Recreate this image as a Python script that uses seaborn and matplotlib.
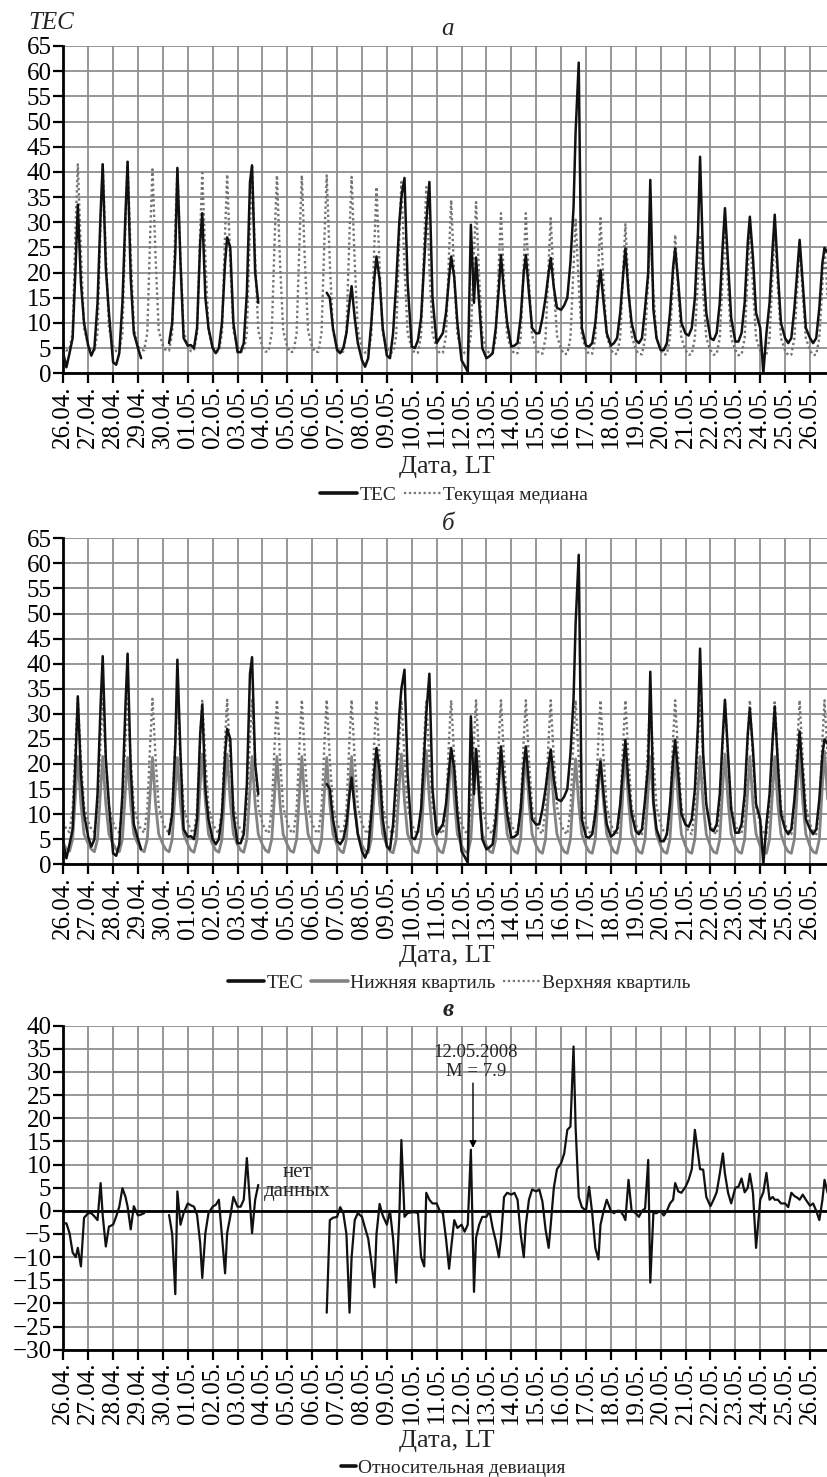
import numpy as np
import pandas as pd
import matplotlib
matplotlib.use("Agg")
import matplotlib.pyplot as plt
import seaborn as sns
from matplotlib.lines import Line2D

sns.set_theme(style="ticks")
plt.rcParams['font.family'] = ['Liberation Serif', 'DejaVu Serif']
plt.rcParams['axes.unicode_minus'] = True

N = np.nan

date_labels = ["26.04.", "27.04.", "28.04.", "29.04.", "30.04.", "01.05.", "02.05.",
               "03.05.", "04.05.", "05.05.", "06.05.", "07.05.", "08.05.", "09.05.",
               "10.05.", "11.05.", "12.05.", "13.05.", "14.05.", "15.05.", "16.05.",
               "17.05.", "18.05.", "19.05.", "20.05.", "21.05.", "22.05.", "23.05.",
               "24.05.", "25.05.", "26.05."]

# local time (hours) of the samples within each day
hours = [0, 3, 6, 9, 12, 14, 17, 20]

# TEC, one row per day
tec = [
    [4, 1.2, 4, 7, 22, 33.5, 18, 10],
    [5.5, 3.5, 5, 14, 32, 41.5, 21, 12],
    [2.2, 1.7, 4, 14, 32, 42, 19, 8],
    [5, 3, N, N, N, N, N, N],
    [N, N, 6, 10, 24, 40.8, 22, 7],
    [5.5, 5.6, 5, 9, 26, 31.8, 15, 9],
    [5, 4, 5, 10, 22, 27, 25, 10],
    [4.2, 4.2, 6, 16, 38, 41.3, 20, 14],
    [N, N, N, N, N, N, N, N],
    [N, N, N, N, N, N, N, N],
    [N, N, N, N, N, 16, 15, 9],
    [4.6, 4, 5, 8, 14, 17.3, 11, 6],
    [2.6, 1.3, 3, 10, 19, 23.2, 18.6, 9],
    [3.5, 3, 8, 18, 30, 35, 38.8, 18],
    [5.3, 5, 6.6, 11, 22, 30, 38, 15],
    [6, 7, 8, 12, 19, 23.2, 19, 10],
    [2.6, 1.5, 0.3, 29.5, 14, 23, 14, 5],
    [3, 3.4, 4, 9, 17, 23.5, 16, 10],
    [5.3, 5.5, 6, 11, 20, 23.5, 16, 9],
    [7.9, 8, 11, 15, 20, 22.9, 17, 13],
    [12.6, 13.5, 15, 22, 33, 48, 61.7, 9],
    [5.5, 5.3, 6, 10, 17, 20.5, 14, 8],
    [5.5, 6, 7, 12, 20, 24.8, 16, 10],
    [6.6, 6, 7, 13, 20, 38.4, 12.6, 7],
    [4.6, 4.6, 6, 12, 21, 24.8, 18, 10],
    [7.9, 7.5, 9, 15, 28, 43, 22, 12],
    [7, 6.6, 8, 14, 26, 32.8, 22, 11],
    [6.3, 6.3, 8, 14, 26, 31.1, 23, 12],
    [9, 0, 8, 14, 25, 31.5, 20, 10],
    [7, 6, 7, 13, 21, 26.5, 18, 9],
    [7, 6, 7, 13, 22, 24.9, 24, N],
]

# running median
median = [
    [5.5, 4.5, 4.8, 8, 30, 41.5, 24, 9],
    [5.5, 4.5, 4.6, 8, 30, 41.5, 24, 9],
    [5.4, 4.4, 4.6, 8, 30, 42, 24, 9],
    [5.5, 4.6, 4.6, 8, 29, 40.5, 23, 8.5],
    [5.5, 4.5, 4.5, 8, 29, 40.5, 23, 8.5],
    [5.4, 4.4, 4.5, 8, 28, 39.8, 23, 8.5],
    [5.3, 4.3, 4.4, 8, 28, 39.5, 22, 8.5],
    [5.3, 4.3, 4.4, 8, 29, 41, 23, 8.5],
    [5.2, 4.3, 4.4, 8, 28, 39.3, 22, 8.5],
    [5.2, 4.2, 4.3, 8, 28, 39.3, 22, 8.5],
    [5.2, 4.2, 4.3, 8, 28, 39.3, 22, 8.5],
    [5.1, 4.2, 4.3, 8, 28, 39, 22, 8.5],
    [5.0, 4.1, 4.2, 7.5, 26, 37, 21, 8],
    [5.0, 4.1, 4.2, 7.5, 27, 38, 21, 8],
    [5.0, 4.0, 4.1, 7.5, 26, 37, 21, 8],
    [4.9, 4.0, 4.1, 7.5, 24, 34.4, 19, 7.5],
    [4.9, 4.0, 4.0, 7.5, 24, 34, 19, 7.5],
    [4.8, 3.9, 4.0, 7, 22, 31.8, 18, 7.5],
    [4.8, 3.9, 4.0, 7, 22, 31.8, 18, 7.5],
    [4.8, 3.9, 3.9, 7, 22, 30.8, 17.5, 7.5],
    [4.8, 3.8, 3.9, 7, 21, 30.5, 17.5, 7.5],
    [4.7, 3.8, 3.9, 7, 22, 30.8, 17.5, 7.5],
    [4.7, 3.8, 3.9, 7, 21, 29.6, 17, 7.5],
    [4.7, 3.8, 3.8, 7, 19, 27, 16, 7],
    [4.6, 3.7, 3.8, 7, 19, 27.5, 16, 7],
    [4.6, 3.7, 3.8, 7, 19, 27.5, 16, 7],
    [4.6, 3.7, 3.8, 7, 20, 29, 17, 7],
    [4.6, 3.6, 3.7, 7, 20, 29, 17, 7],
    [4.5, 3.6, 3.7, 7, 20, 29, 17, 7],
    [4.5, 3.6, 3.7, 7, 18, 26, 15.5, 7],
    [4.5, 3.6, 3.7, 7, 18, 25, 15, N],
]

# lower quartile
lower_q = [
    [4.2, 3.0, 2.6, 5, 15, 21.5, 12, 6],
    [4.1, 3.0, 2.5, 5, 15, 21.5, 12, 6],
    [4.1, 2.9, 2.5, 5, 15, 21.3, 12, 6],
    [4.0, 2.9, 2.5, 5, 15, 21.3, 12, 6],
    [4.0, 2.9, 2.5, 5, 15, 21.3, 12, 6],
    [4.0, 2.8, 2.4, 5, 16, 22, 12.5, 6],
    [4.0, 2.8, 2.4, 5, 16, 22, 12.5, 6],
    [3.9, 2.8, 2.4, 5, 15, 21.5, 12, 6],
    [3.9, 2.8, 2.4, 5, 15, 21.5, 12, 6],
    [3.9, 2.7, 2.4, 5, 15, 21.5, 12, 6],
    [3.9, 2.7, 2.3, 5, 15, 21.3, 12, 6],
    [3.8, 2.7, 2.3, 5, 15, 21.5, 12, 6],
    [3.8, 2.7, 2.3, 5, 15, 21.5, 12, 6],
    [3.8, 2.6, 2.3, 5, 16, 22, 12.5, 6],
    [3.8, 2.6, 2.3, 5, 16, 22.7, 13, 6],
    [3.8, 2.6, 2.3, 5, 16, 22.7, 13, 6],
    [3.8, 2.6, 2.3, 5, 16, 22.7, 13, 6],
    [3.7, 2.6, 2.3, 5, 16, 22.7, 13, 6],
    [3.7, 2.6, 2.2, 5, 16, 22, 12.5, 6],
    [3.7, 2.6, 2.2, 5, 15, 21.5, 12, 6],
    [3.7, 2.5, 2.2, 5, 15, 21, 12, 6],
    [3.7, 2.5, 2.2, 5, 15, 21, 12, 6],
    [3.7, 2.5, 2.2, 5, 16, 22, 12.5, 6],
    [3.7, 2.5, 2.2, 5, 15, 21.5, 12, 6],
    [3.6, 2.5, 2.2, 5, 16, 22, 12.5, 6],
    [3.6, 2.5, 2.2, 5, 15, 21.5, 12, 6],
    [3.6, 2.5, 2.2, 5, 16, 22, 12.5, 6],
    [3.6, 2.5, 2.2, 5, 15, 21.5, 12, 6],
    [3.6, 2.5, 2.2, 5, 15, 21.5, 12, 6],
    [3.6, 2.5, 2.2, 5, 16, 22, 12.5, 6],
    [3.6, 2.5, 2.2, 5, 16, 22.5, 13, N],
]

# upper quartile
upper_q = [
    [8.5, 7.0, 6.4, 11, 25, 33, 21, 11.5],
    [8.5, 7.0, 6.4, 11, 25, 33, 21, 11.5],
    [8.4, 6.9, 6.3, 11, 25, 33, 21, 11.5],
    [8.4, 6.9, 6.3, 11, 25, 33, 21, 11.5],
    [8.4, 6.9, 6.3, 11, 25, 33, 21, 11.5],
    [8.3, 6.8, 6.3, 11, 25, 32.8, 21, 11.5],
    [8.3, 6.8, 6.2, 11, 25, 32.8, 21, 11.5],
    [8.3, 6.8, 6.2, 11, 25, 33, 21, 11.5],
    [8.2, 6.8, 6.2, 11, 25, 32.8, 21, 11.5],
    [8.2, 6.7, 6.2, 11, 25, 32.8, 21, 11.5],
    [8.2, 6.7, 6.2, 11, 25, 32.8, 21, 11.5],
    [8.2, 6.7, 6.2, 11, 25, 32.8, 21, 11.5],
    [8.1, 6.7, 6.1, 11, 25, 32.7, 21, 11.5],
    [8.1, 6.7, 6.1, 11, 25, 32.7, 21, 11.5],
    [8.1, 6.6, 6.1, 11, 25, 32.7, 21, 11.5],
    [8.1, 6.6, 6.1, 11, 25, 32.7, 21, 11.5],
    [8.1, 6.6, 6.1, 11, 25, 32.7, 21, 11.5],
    [8.0, 6.6, 6.1, 11, 25, 32.7, 21, 11.5],
    [8.0, 6.6, 6.1, 11, 25, 32.7, 21, 11.5],
    [8.0, 6.6, 6.1, 11, 25, 32.7, 21, 11.5],
    [8.0, 6.5, 6.0, 11, 25, 32.7, 21, 11.5],
    [8.0, 6.5, 6.0, 11, 25, 32.7, 21, 11.5],
    [8.0, 6.5, 6.0, 11, 25, 32.7, 21, 11.5],
    [8.0, 6.5, 6.0, 11, 25, 32.7, 21, 11.5],
    [8.0, 6.5, 6.0, 11, 25, 32.7, 21, 11.5],
    [8.0, 6.5, 6.0, 11, 25, 32.7, 21, 11.5],
    [8.0, 6.5, 6.0, 11, 25, 32.7, 21, 11.5],
    [8.0, 6.5, 6.0, 11, 25, 32.7, 21, 11.5],
    [8.0, 6.5, 6.0, 11, 25, 32.7, 21, 11.5],
    [8.0, 6.5, 6.0, 11, 25, 32.7, 21, 11.5],
    [8.0, 6.5, 6.0, 11, 25, 32.7, 21, N],
]

# relative deviation
deviation = [
    [-2.7, -2.7, -4.8, -9, -10, -8, -12, -1.5],
    [-0.5, -0.5, -1.2, -2, 6, -1, -7.7, -3.4],
    [-3, -1.2, 0.9, 4.9, 3, 0.9, -4, 1],
    [-1, -0.8, -0.5, N, N, N, N, N],
    [N, N, -0.9, -5, -18, 4.2, -3, -0.5],
    [1.6, 1.2, 0.9, -0.9, -7, -14.5, -4.8, -0.5],
    [0.9, 1.3, 2.4, -5.5, -13.5, -4.8, -1.2, 3],
    [0.9, 0.9, 2.4, 11.4, 1.6, -4.8, 2.4, 5.6],
    [N, N, N, N, N, N, N, N],
    [N, N, N, N, N, N, N, N],
    [N, N, N, N, N, -22, -2, -1.5],
    [-1.3, 0.8, -0.5, -5, -22, -10, -2, -0.5],
    [-1.3, -3.7, -6, -11, -16.5, -5, 1.5, -1],
    [-3, 0, -6, -15.5, -1.3, 15.3, -1.3, -0.5],
    [-0.3, -0.3, -0.5, -10, -12, 3.9, 2.4, 1.6],
    [1.6, 0, -0.5, -6, -12.5, -8, -2, -3.7],
    [-3, -4.5, -3, 13.2, -17.5, -5.8, -3, -1.3],
    [-1.3, 0, -3.7, -6.5, -10, -6, 3, 3.9],
    [3.5, 3.9, 2.4, -5, -10, -3, 2.4, 4.6],
    [4.2, 4.6, 2, -4, -8, -3, 5, 9],
    [10.3, 12.4, 17.5, 18.2, 35.5, 18, 3, 0.8],
    [0, 5.2, -0.5, -8, -10.5, -3, 0, 2.4],
    [0, -0.5, 0, 0, -1, -2, 6.7, 0],
    [-0.5, -1.3, 0, 0.5, 11, -15.5, -0.5, -0.5],
    [0, -1, 0, 1.6, 2.4, 6, 4.2, 3.9],
    [5.2, 6.7, 9, 17.5, 12.4, 9, 8.9, 3],
    [1, 2.4, 4, 8, 12.4, 8, 3.9, 1.6],
    [5, 5.2, 7, 4, 5, 8, 3.9, -8],
    [2.4, 4, 8.2, 2.4, 3, 2.4, 2.4, 1.6],
    [1.6, 0.8, 3.9, 3.2, 2.8, 2.4, 3.5, 2.4],
    [1.1, 1.6, 0, -2, 2.4, 6.7, 3.9, N],
]


def to_frame(rows):
    t, v = [], []
    for d, row in enumerate(rows):
        for h, val in zip(hours, row):
            t.append(d + h / 24.0)
            v.append(val)
    df = pd.DataFrame({"t": t, "v": v})
    df["seg"] = df["v"].isna().cumsum()
    return df.dropna().reset_index(drop=True)


df_tec = to_frame(tec)
df_med = to_frame(median)
df_lq = to_frame(lower_q)
df_uq = to_frame(upper_q)
df_dev = to_frame(deviation)

W, H = 827, 1477
fig = plt.figure(figsize=(W / 100, H / 100), dpi=100)

X0 = 63.3 / W
AW = 1 - X0
XMAX = (827 - 63.3) / 24.89

GRID_C = "#8f8f8f"
BLACK = "#111111"
GREY = "#747474"
DOT = (0, (1.0, 1.2))
TICKFS = 18


def ax_at(top_px, bot_px):
    return fig.add_axes([X0, 1 - bot_px / H, AW, (bot_px - top_px) / H])


def setup(ax, ymin, ymax):
    ax.set_xlim(0, XMAX)
    ax.set_ylim(ymin, ymax)
    ax.set_xticks(range(len(date_labels)))
    ax.set_xticklabels(date_labels, rotation=90, fontsize=TICKFS)
    ax.set_yticks(np.arange(ymin, ymax + 1, 5))
    ax.tick_params(axis="both", direction="out", length=7, width=1.6,
                   labelsize=TICKFS, pad=1.5, colors="black")
    ax.grid(True, color=GRID_C, lw=1.3)
    ax.set_axisbelow(True)
    for s in ["top", "right"]:
        ax.spines[s].set_visible(False)
    for s in ["left", "bottom"]:
        ax.spines[s].set_color("black")
        ax.spines[s].set_linewidth(2.0)
    ax.set_xlabel("")
    ax.set_ylabel("")


def line(df, ax, color, lw, ls="-", zorder=3):
    sns.lineplot(data=df, x="t", y="v", units="seg", estimator=None,
                 color=color, lw=lw, linestyle=ls, ax=ax, legend=False,
                 zorder=zorder, sort=True)


# ---- panel a ----
axa = ax_at(46, 373.3)
line(df_med, axa, GREY, 1.7, DOT, 2)
line(df_tec, axa, BLACK, 1.8, "-", 3)
setup(axa, 0, 65)

# ---- panel b ----
axb = ax_at(538.3, 864.3)
line(df_uq, axb, GREY, 1.7, DOT, 2)
line(df_lq, axb, "#838383", 2.0, "-", 2)
line(df_tec, axb, BLACK, 1.8, "-", 3)
setup(axb, 0, 65)

# ---- panel c ----
axc = ax_at(1025.7, 1349.7)
axc.axhline(0, color="black", lw=2.0, zorder=2)
line(df_dev, axc, BLACK, 1.6, "-", 3)
setup(axc, -30, 40)

# annotations in panel c
axc.text(9.4, 8.2, "нет", ha="center", va="center", fontsize=15)
axc.text(9.4, 4.1, "данных", ha="center", va="center", fontsize=15)
axc.text(16.58, 34.3, "12.05.2008", ha="center", va="center", fontsize=13.5)
axc.text(16.58, 30.0, "M = 7.9", ha="center", va="center", fontsize=13.5)
axc.annotate("", xy=(16.46, 13.6), xytext=(16.46, 27.6),
             arrowprops=dict(arrowstyle="-|>", color="black", lw=1.0,
                             mutation_scale=10, shrinkA=0, shrinkB=0))

# titles and labels
fig.text(51 / W, 1 - 23 / H, "TEC", style="italic", fontsize=18,
         ha="center", va="center")
fig.text(448 / W, 1 - 29 / H, "a", style="italic", fontsize=18,
         ha="center", va="center")
fig.text(448 / W, 1 - 524 / H, "б", style="italic", fontsize=18,
         ha="center", va="center")
fig.text(448 / W, 1 - 1010 / H, "в", style="italic", fontweight="bold",
         fontsize=18, ha="center", va="center")

for ypx in (467, 956, 1441):
    fig.text(447 / W, 1 - ypx / H, "Дата, LT", fontsize=19,
             ha="center", va="center")

h_tec = Line2D([], [], color=BLACK, lw=2.6)
h_med = Line2D([], [], color=GREY, lw=1.6, linestyle=DOT)
h_lq = Line2D([], [], color="#838383", lw=2.6)
h_uq = Line2D([], [], color=GREY, lw=1.6, linestyle=DOT)
h_dev = Line2D([], [], color=BLACK, lw=2.6)

leg_kw = dict(loc="center", frameon=False, fontsize=14, handletextpad=0.1,
              columnspacing=0.4, borderaxespad=0, borderpad=0)
fig.legend([h_tec, h_med], ["TEC", "Текущая медиана"], ncol=2,
           bbox_to_anchor=(454 / W, 1 - 495 / H), handlelength=1.9, **leg_kw)
fig.legend([h_tec, h_lq, h_uq], ["TEC", "Нижняя квартиль", "Верхняя квартиль"],
           ncol=3, bbox_to_anchor=(459 / W, 1 - 983 / H), handlelength=1.9, **leg_kw)
fig.legend([h_dev], ["Относительная девиация"], ncol=1,
           bbox_to_anchor=(453 / W, 1 - 1468 / H), handlelength=0.8, **leg_kw)

fig.savefig("out.png", dpi=100)
